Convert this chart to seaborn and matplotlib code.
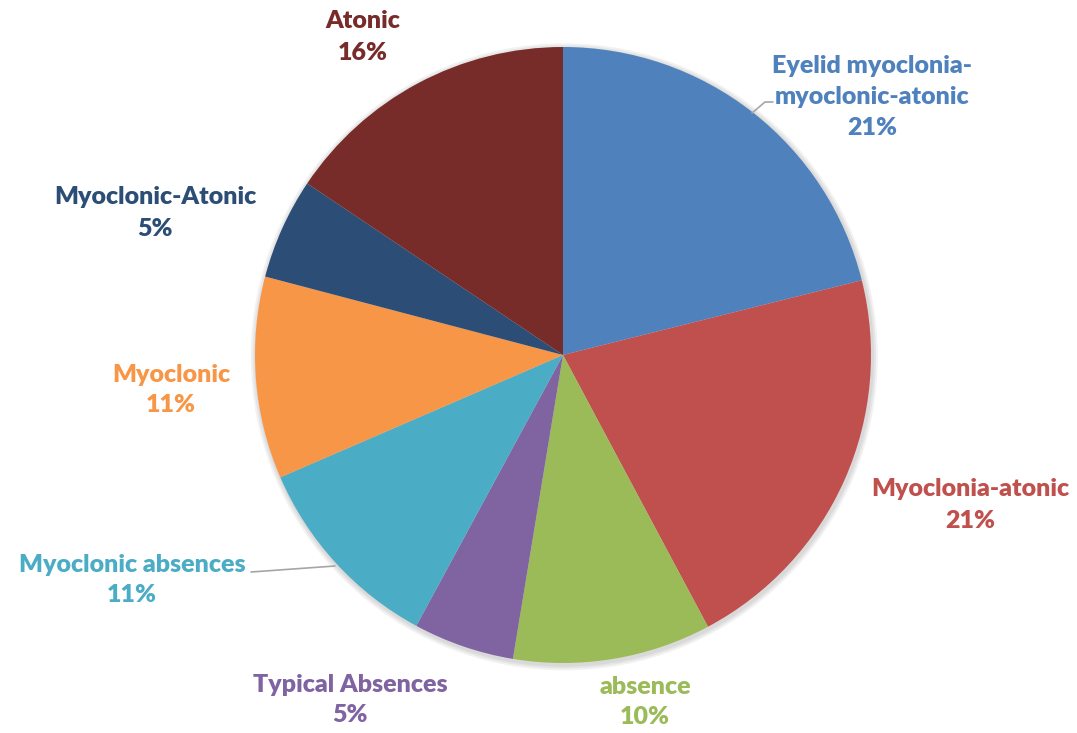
import matplotlib
matplotlib.use("Agg")
import matplotlib.pyplot as plt
import seaborn as sns
from matplotlib.lines import Line2D
from matplotlib.patches import Circle

# ---- data (percent shares; labels show them rounded) ----
categories = ["Eyelid myoclonia-\nmyoclonic-atonic", "Myoclonia-atonic", "absence",
              "Typical Absences", "Myoclonic absences", "Myoclonic",
              "Myoclonic-Atonic", "Atonic"]
percentages = [21.1, 21.1, 10.4, 5.3, 10.6, 10.6, 5.3, 15.6]
colors = ["#4F81BD", "#C0504D", "#9BBB59", "#8064A2", "#4BACC6", "#F79646",
          "#2C4D75", "#772C2A"]

# ---- layout (pixel positions of label centres) ----
label_pos = [(872, 97), (970, 505), (645, 702), (350, 700), (132, 580),
             (171, 390), (155, 213), (363, 37)]

sns.set_theme(style="white")
plt.rcParams['font.family'] = ['Lato', 'DejaVu Sans']

W, H, DPI = 1077, 733, 100
fig = plt.figure(figsize=(W / DPI, H / DPI), dpi=DPI)
ax = fig.add_axes([0, 0, 1, 1])

cx, cy, r = 563, 355, 308
# soft shadow behind the pie
for k, rr in enumerate([1.018, 1.012, 1.006]):
    ax.add_patch(Circle((0.004, -0.006), rr, color="black", alpha=0.05,
                        linewidth=0, zorder=0))
wedges, _ = ax.pie(percentages, colors=colors, startangle=90, counterclock=False,
                   radius=1, wedgeprops=dict(linewidth=0))
for w in wedges:
    w.set_zorder(2)
ax.set_xlim(-cx / r, (W - cx) / r)
ax.set_ylim((cy - H) / r, cy / r)
ax.set_aspect("equal")
ax.axis("off")

for cat, p, col, (px, py) in zip(categories, percentages, colors, label_pos):
    fig.text(px / W, 1 - py / H, f"{cat}\n{round(p)}%", color=col, ha="center",
             va="center", fontsize=18, fontweight="heavy", linespacing=1.5)

# leader lines
def fline(xs, ys):
    fig.add_artist(Line2D([x / W for x in xs], [1 - y / H for y in ys],
                          color="#A6A6A6", linewidth=1.2))

fline([773, 765, 752], [102, 102, 113])
fline([251, 335], [572, 566])

fig.savefig("out.png", dpi=DPI)
